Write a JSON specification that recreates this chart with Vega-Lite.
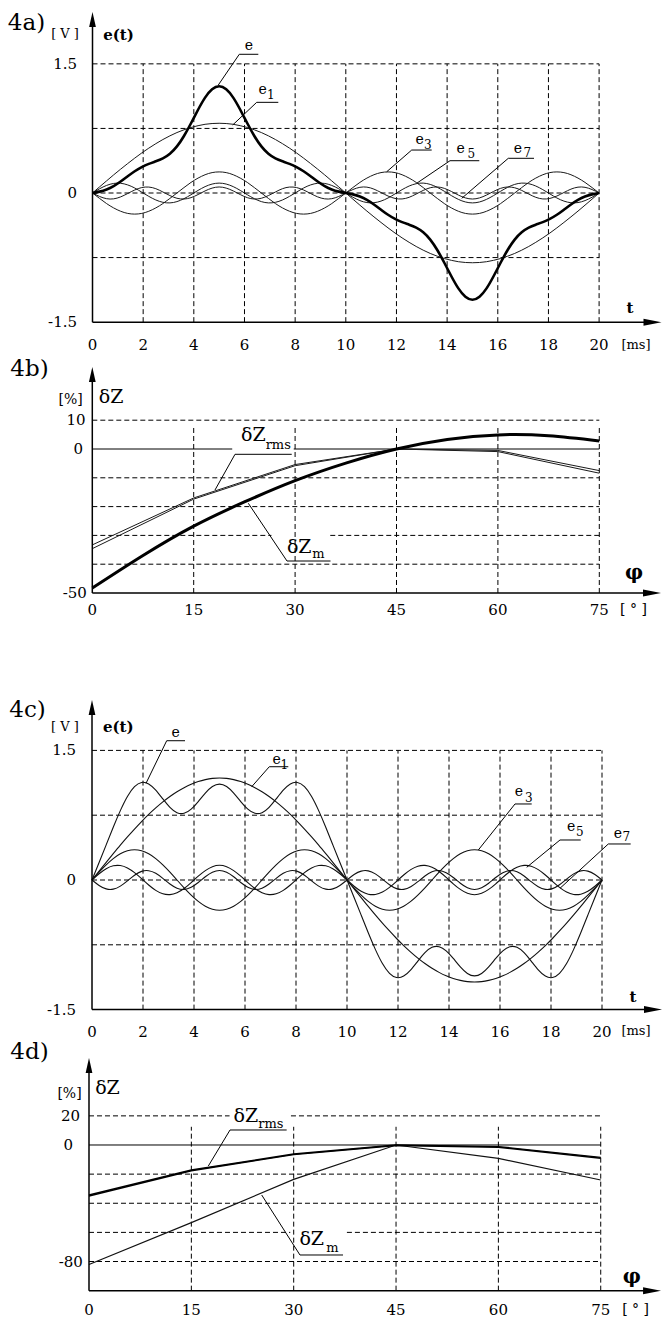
{
"$schema": "https://vega.github.io/schema/vega-lite/v6.json",
"padding": 0,
"background": "white",
"spacing": 0,
"bounds": "flush",
"config": {"view": {"stroke": null}, "text": {"font": "DejaVu Serif"}},
"datasets": {
"wa": [
{"x":0,"e":0,"e1":0,"e3":0,"e5":0,"e7":0},
{"x":0.278,"e":0.016,"e1":0.071,"e3":-0.063,"e5":0.049,"e7":-0.04},
{"x":0.556,"e":0.041,"e1":0.141,"e3":-0.123,"e5":0.088,"e7":-0.066},
{"x":0.833,"e":0.08,"e1":0.21,"e3":-0.173,"e5":0.111,"e7":-0.068},
{"x":1.111,"e":0.133,"e1":0.277,"e3":-0.212,"e5":0.113,"e7":-0.045},
{"x":1.389,"e":0.194,"e1":0.342,"e3":-0.237,"e5":0.094,"e7":-0.006},
{"x":1.667,"e":0.253,"e1":0.405,"e3":-0.245,"e5":0.058,"e7":0.035},
{"x":1.944,"e":0.301,"e1":0.465,"e3":-0.237,"e5":0.01,"e7":0.063},
{"x":2.222,"e":0.338,"e1":0.521,"e3":-0.212,"e5":-0.039,"e7":0.069},
{"x":2.5,"e":0.368,"e1":0.573,"e3":-0.173,"e5":-0.081,"e7":0.05},
{"x":2.778,"e":0.402,"e1":0.621,"e3":-0.123,"e5":-0.108,"e7":0.012},
{"x":3.056,"e":0.456,"e1":0.664,"e3":-0.063,"e5":-0.115,"e7":-0.03},
{"x":3.333,"e":0.541,"e1":0.702,"e3":0,"e5":-0.1,"e7":-0.061},
{"x":3.611,"e":0.662,"e1":0.734,"e3":0.063,"e5":-0.066,"e7":-0.07},
{"x":3.889,"e":0.81,"e1":0.761,"e3":0.123,"e5":-0.02,"e7":-0.054},
{"x":4.167,"e":0.967,"e1":0.782,"e3":0.173,"e5":0.03,"e7":-0.018},
{"x":4.444,"e":1.108,"e1":0.798,"e3":0.212,"e5":0.074,"e7":0.024},
{"x":4.722,"e":1.205,"e1":0.807,"e3":0.237,"e5":0.104,"e7":0.057},
{"x":5,"e":1.24,"e1":0.81,"e3":0.245,"e5":0.115,"e7":0.07},
{"x":5.278,"e":1.205,"e1":0.807,"e3":0.237,"e5":0.104,"e7":0.057},
{"x":5.556,"e":1.108,"e1":0.798,"e3":0.212,"e5":0.074,"e7":0.024},
{"x":5.833,"e":0.967,"e1":0.782,"e3":0.173,"e5":0.03,"e7":-0.018},
{"x":6.111,"e":0.81,"e1":0.761,"e3":0.123,"e5":-0.02,"e7":-0.054},
{"x":6.389,"e":0.662,"e1":0.734,"e3":0.063,"e5":-0.066,"e7":-0.07},
{"x":6.667,"e":0.541,"e1":0.702,"e3":0,"e5":-0.1,"e7":-0.061},
{"x":6.944,"e":0.456,"e1":0.664,"e3":-0.063,"e5":-0.115,"e7":-0.03},
{"x":7.222,"e":0.402,"e1":0.621,"e3":-0.123,"e5":-0.108,"e7":0.012},
{"x":7.5,"e":0.368,"e1":0.573,"e3":-0.173,"e5":-0.081,"e7":0.05},
{"x":7.778,"e":0.338,"e1":0.521,"e3":-0.212,"e5":-0.039,"e7":0.069},
{"x":8.056,"e":0.301,"e1":0.465,"e3":-0.237,"e5":0.01,"e7":0.063},
{"x":8.333,"e":0.253,"e1":0.405,"e3":-0.245,"e5":0.058,"e7":0.035},
{"x":8.611,"e":0.194,"e1":0.342,"e3":-0.237,"e5":0.094,"e7":-0.006},
{"x":8.889,"e":0.133,"e1":0.277,"e3":-0.212,"e5":0.113,"e7":-0.045},
{"x":9.167,"e":0.08,"e1":0.21,"e3":-0.173,"e5":0.111,"e7":-0.068},
{"x":9.444,"e":0.041,"e1":0.141,"e3":-0.123,"e5":0.088,"e7":-0.066},
{"x":9.722,"e":0.016,"e1":0.071,"e3":-0.063,"e5":0.049,"e7":-0.04},
{"x":10,"e":0,"e1":0,"e3":0,"e5":0,"e7":0},
{"x":10.278,"e":-0.016,"e1":-0.071,"e3":0.063,"e5":-0.049,"e7":0.04},
{"x":10.556,"e":-0.041,"e1":-0.141,"e3":0.123,"e5":-0.088,"e7":0.066},
{"x":10.833,"e":-0.08,"e1":-0.21,"e3":0.173,"e5":-0.111,"e7":0.068},
{"x":11.111,"e":-0.133,"e1":-0.277,"e3":0.212,"e5":-0.113,"e7":0.045},
{"x":11.389,"e":-0.194,"e1":-0.342,"e3":0.237,"e5":-0.094,"e7":0.006},
{"x":11.667,"e":-0.253,"e1":-0.405,"e3":0.245,"e5":-0.058,"e7":-0.035},
{"x":11.944,"e":-0.301,"e1":-0.465,"e3":0.237,"e5":-0.01,"e7":-0.063},
{"x":12.222,"e":-0.338,"e1":-0.521,"e3":0.212,"e5":0.039,"e7":-0.069},
{"x":12.5,"e":-0.368,"e1":-0.573,"e3":0.173,"e5":0.081,"e7":-0.05},
{"x":12.778,"e":-0.402,"e1":-0.621,"e3":0.123,"e5":0.108,"e7":-0.012},
{"x":13.056,"e":-0.456,"e1":-0.664,"e3":0.063,"e5":0.115,"e7":0.03},
{"x":13.333,"e":-0.541,"e1":-0.702,"e3":0,"e5":0.1,"e7":0.061},
{"x":13.611,"e":-0.662,"e1":-0.734,"e3":-0.063,"e5":0.066,"e7":0.07},
{"x":13.889,"e":-0.81,"e1":-0.761,"e3":-0.123,"e5":0.02,"e7":0.054},
{"x":14.167,"e":-0.967,"e1":-0.782,"e3":-0.173,"e5":-0.03,"e7":0.018},
{"x":14.444,"e":-1.108,"e1":-0.798,"e3":-0.212,"e5":-0.074,"e7":-0.024},
{"x":14.722,"e":-1.205,"e1":-0.807,"e3":-0.237,"e5":-0.104,"e7":-0.057},
{"x":15,"e":-1.24,"e1":-0.81,"e3":-0.245,"e5":-0.115,"e7":-0.07},
{"x":15.278,"e":-1.205,"e1":-0.807,"e3":-0.237,"e5":-0.104,"e7":-0.057},
{"x":15.556,"e":-1.108,"e1":-0.798,"e3":-0.212,"e5":-0.074,"e7":-0.024},
{"x":15.833,"e":-0.967,"e1":-0.782,"e3":-0.173,"e5":-0.03,"e7":0.018},
{"x":16.111,"e":-0.81,"e1":-0.761,"e3":-0.123,"e5":0.02,"e7":0.054},
{"x":16.389,"e":-0.662,"e1":-0.734,"e3":-0.063,"e5":0.066,"e7":0.07},
{"x":16.667,"e":-0.541,"e1":-0.702,"e3":0,"e5":0.1,"e7":0.061},
{"x":16.944,"e":-0.456,"e1":-0.664,"e3":0.063,"e5":0.115,"e7":0.03},
{"x":17.222,"e":-0.402,"e1":-0.621,"e3":0.123,"e5":0.108,"e7":-0.012},
{"x":17.5,"e":-0.368,"e1":-0.573,"e3":0.173,"e5":0.081,"e7":-0.05},
{"x":17.778,"e":-0.338,"e1":-0.521,"e3":0.212,"e5":0.039,"e7":-0.069},
{"x":18.056,"e":-0.301,"e1":-0.465,"e3":0.237,"e5":-0.01,"e7":-0.063},
{"x":18.333,"e":-0.253,"e1":-0.405,"e3":0.245,"e5":-0.058,"e7":-0.035},
{"x":18.611,"e":-0.194,"e1":-0.342,"e3":0.237,"e5":-0.094,"e7":0.006},
{"x":18.889,"e":-0.133,"e1":-0.277,"e3":0.212,"e5":-0.113,"e7":0.045},
{"x":19.167,"e":-0.08,"e1":-0.21,"e3":0.173,"e5":-0.111,"e7":0.068},
{"x":19.444,"e":-0.041,"e1":-0.141,"e3":0.123,"e5":-0.088,"e7":0.066},
{"x":19.722,"e":-0.016,"e1":-0.071,"e3":0.063,"e5":-0.049,"e7":0.04},
{"x":20,"e":0,"e1":0,"e3":0,"e5":0,"e7":0}
],
"wc": [
{"x":0,"e":0,"e1":0,"e3":0,"e5":0,"e7":0},
{"x":0.278,"e":0.202,"e1":0.103,"e3":0.091,"e5":0.072,"e7":-0.063},
{"x":0.556,"e":0.407,"e1":0.205,"e3":0.175,"e5":0.13,"e7":-0.103},
{"x":0.833,"e":0.611,"e1":0.305,"e3":0.248,"e5":0.164,"e7":-0.106},
{"x":1.111,"e":0.803,"e1":0.404,"e3":0.303,"e5":0.167,"e7":-0.071},
{"x":1.389,"e":0.967,"e1":0.499,"e3":0.338,"e5":0.139,"e7":-0.01},
{"x":1.667,"e":1.08,"e1":0.59,"e3":0.35,"e5":0.085,"e7":0.055},
{"x":1.944,"e":1.129,"e1":0.677,"e3":0.338,"e5":0.015,"e7":0.1},
{"x":2.222,"e":1.112,"e1":0.759,"e3":0.303,"e5":-0.058,"e7":0.108},
{"x":2.5,"e":1.04,"e1":0.834,"e3":0.248,"e5":-0.12,"e7":0.078},
{"x":2.778,"e":0.938,"e1":0.904,"e3":0.175,"e5":-0.16,"e7":0.019},
{"x":3.056,"e":0.841,"e1":0.967,"e3":0.091,"e5":-0.169,"e7":-0.047},
{"x":3.333,"e":0.779,"e1":1.022,"e3":0,"e5":-0.147,"e7":-0.095},
{"x":3.611,"e":0.772,"e1":1.069,"e3":-0.091,"e5":-0.098,"e7":-0.11},
{"x":3.889,"e":0.82,"e1":1.109,"e3":-0.175,"e5":-0.03,"e7":-0.084},
{"x":4.167,"e":0.908,"e1":1.14,"e3":-0.248,"e5":0.044,"e7":-0.029},
{"x":4.444,"e":1.006,"e1":1.162,"e3":-0.303,"e5":0.109,"e7":0.038},
{"x":4.722,"e":1.082,"e1":1.176,"e3":-0.338,"e5":0.154,"e7":0.09},
{"x":5,"e":1.11,"e1":1.18,"e3":-0.35,"e5":0.17,"e7":0.11},
{"x":5.278,"e":1.082,"e1":1.176,"e3":-0.338,"e5":0.154,"e7":0.09},
{"x":5.556,"e":1.006,"e1":1.162,"e3":-0.303,"e5":0.109,"e7":0.038},
{"x":5.833,"e":0.908,"e1":1.14,"e3":-0.248,"e5":0.044,"e7":-0.029},
{"x":6.111,"e":0.82,"e1":1.109,"e3":-0.175,"e5":-0.03,"e7":-0.084},
{"x":6.389,"e":0.772,"e1":1.069,"e3":-0.091,"e5":-0.098,"e7":-0.11},
{"x":6.667,"e":0.779,"e1":1.022,"e3":0,"e5":-0.147,"e7":-0.095},
{"x":6.944,"e":0.841,"e1":0.967,"e3":0.091,"e5":-0.169,"e7":-0.047},
{"x":7.222,"e":0.938,"e1":0.904,"e3":0.175,"e5":-0.16,"e7":0.019},
{"x":7.5,"e":1.04,"e1":0.834,"e3":0.248,"e5":-0.12,"e7":0.078},
{"x":7.778,"e":1.112,"e1":0.759,"e3":0.303,"e5":-0.058,"e7":0.108},
{"x":8.056,"e":1.129,"e1":0.677,"e3":0.338,"e5":0.015,"e7":0.1},
{"x":8.333,"e":1.08,"e1":0.59,"e3":0.35,"e5":0.085,"e7":0.055},
{"x":8.611,"e":0.967,"e1":0.499,"e3":0.338,"e5":0.139,"e7":-0.01},
{"x":8.889,"e":0.803,"e1":0.404,"e3":0.303,"e5":0.167,"e7":-0.071},
{"x":9.167,"e":0.611,"e1":0.305,"e3":0.248,"e5":0.164,"e7":-0.106},
{"x":9.444,"e":0.407,"e1":0.205,"e3":0.175,"e5":0.13,"e7":-0.103},
{"x":9.722,"e":0.202,"e1":0.103,"e3":0.091,"e5":0.072,"e7":-0.063},
{"x":10,"e":0,"e1":0,"e3":0,"e5":0,"e7":0},
{"x":10.278,"e":-0.202,"e1":-0.103,"e3":-0.091,"e5":-0.072,"e7":0.063},
{"x":10.556,"e":-0.407,"e1":-0.205,"e3":-0.175,"e5":-0.13,"e7":0.103},
{"x":10.833,"e":-0.611,"e1":-0.305,"e3":-0.248,"e5":-0.164,"e7":0.106},
{"x":11.111,"e":-0.803,"e1":-0.404,"e3":-0.303,"e5":-0.167,"e7":0.071},
{"x":11.389,"e":-0.967,"e1":-0.499,"e3":-0.338,"e5":-0.139,"e7":0.01},
{"x":11.667,"e":-1.08,"e1":-0.59,"e3":-0.35,"e5":-0.085,"e7":-0.055},
{"x":11.944,"e":-1.129,"e1":-0.677,"e3":-0.338,"e5":-0.015,"e7":-0.1},
{"x":12.222,"e":-1.112,"e1":-0.759,"e3":-0.303,"e5":0.058,"e7":-0.108},
{"x":12.5,"e":-1.04,"e1":-0.834,"e3":-0.248,"e5":0.12,"e7":-0.078},
{"x":12.778,"e":-0.938,"e1":-0.904,"e3":-0.175,"e5":0.16,"e7":-0.019},
{"x":13.056,"e":-0.841,"e1":-0.967,"e3":-0.091,"e5":0.169,"e7":0.047},
{"x":13.333,"e":-0.779,"e1":-1.022,"e3":0,"e5":0.147,"e7":0.095},
{"x":13.611,"e":-0.772,"e1":-1.069,"e3":0.091,"e5":0.098,"e7":0.11},
{"x":13.889,"e":-0.82,"e1":-1.109,"e3":0.175,"e5":0.03,"e7":0.084},
{"x":14.167,"e":-0.908,"e1":-1.14,"e3":0.248,"e5":-0.044,"e7":0.029},
{"x":14.444,"e":-1.006,"e1":-1.162,"e3":0.303,"e5":-0.109,"e7":-0.038},
{"x":14.722,"e":-1.082,"e1":-1.176,"e3":0.338,"e5":-0.154,"e7":-0.09},
{"x":15,"e":-1.11,"e1":-1.18,"e3":0.35,"e5":-0.17,"e7":-0.11},
{"x":15.278,"e":-1.082,"e1":-1.176,"e3":0.338,"e5":-0.154,"e7":-0.09},
{"x":15.556,"e":-1.006,"e1":-1.162,"e3":0.303,"e5":-0.109,"e7":-0.038},
{"x":15.833,"e":-0.908,"e1":-1.14,"e3":0.248,"e5":-0.044,"e7":0.029},
{"x":16.111,"e":-0.82,"e1":-1.109,"e3":0.175,"e5":0.03,"e7":0.084},
{"x":16.389,"e":-0.772,"e1":-1.069,"e3":0.091,"e5":0.098,"e7":0.11},
{"x":16.667,"e":-0.779,"e1":-1.022,"e3":0,"e5":0.147,"e7":0.095},
{"x":16.944,"e":-0.841,"e1":-0.967,"e3":-0.091,"e5":0.169,"e7":0.047},
{"x":17.222,"e":-0.938,"e1":-0.904,"e3":-0.175,"e5":0.16,"e7":-0.019},
{"x":17.5,"e":-1.04,"e1":-0.834,"e3":-0.248,"e5":0.12,"e7":-0.078},
{"x":17.778,"e":-1.112,"e1":-0.759,"e3":-0.303,"e5":0.058,"e7":-0.108},
{"x":18.056,"e":-1.129,"e1":-0.677,"e3":-0.338,"e5":-0.015,"e7":-0.1},
{"x":18.333,"e":-1.08,"e1":-0.59,"e3":-0.35,"e5":-0.085,"e7":-0.055},
{"x":18.611,"e":-0.967,"e1":-0.499,"e3":-0.338,"e5":-0.139,"e7":0.01},
{"x":18.889,"e":-0.803,"e1":-0.404,"e3":-0.303,"e5":-0.167,"e7":0.071},
{"x":19.167,"e":-0.611,"e1":-0.305,"e3":-0.248,"e5":-0.164,"e7":0.106},
{"x":19.444,"e":-0.407,"e1":-0.205,"e3":-0.175,"e5":-0.13,"e7":0.103},
{"x":19.722,"e":-0.202,"e1":-0.103,"e3":-0.091,"e5":-0.072,"e7":0.063},
{"x":20,"e":0,"e1":0,"e3":0,"e5":0,"e7":0}
],
"da": [
{"x":0,"y":1.5,"x2":20,"y2":1.5},{"x":0,"y":0.75,"x2":20,"y2":0.75},{"x":0,"y":0,"x2":20,"y2":0},{"x":0,"y":-0.75,"x2":20,"y2":-0.75},
{"x":2,"y":-1.5,"x2":2,"y2":1.5},{"x":4,"y":-1.5,"x2":4,"y2":1.5},{"x":6,"y":-1.5,"x2":6,"y2":1.5},{"x":8,"y":-1.5,"x2":8,"y2":1.5},{"x":10,"y":-1.5,"x2":10,"y2":1.5},
{"x":12,"y":-1.5,"x2":12,"y2":1.5},{"x":14,"y":-1.5,"x2":14,"y2":1.5},{"x":16,"y":-1.5,"x2":16,"y2":1.5},{"x":18,"y":-1.5,"x2":18,"y2":1.5},{"x":20,"y":-1.5,"x2":20,"y2":1.5}
],
"xa": [{"x":0,"y":-1.5,"x2":0,"y2":2.0},{"x":0,"y":-1.5,"x2":22.0,"y2":-1.5}],
"aa": [{"x":0,"y":2.015,"d":"up"},{"x":22.108,"y":-1.5,"d":"right"}],
"sa": [
{"x":5.795,"y":1.611,"x2":6.546,"y2":1.611},{"x":5.795,"y":1.611,"x2":4.966,"y2":1.254},
{"x":6.482,"y":1.053,"x2":7.335,"y2":1.053},{"x":6.482,"y":1.053,"x2":5.535,"y2":0.79},
{"x":12.602,"y":0.499,"x2":13.391,"y2":0.499},{"x":12.602,"y":0.499,"x2":11.615,"y2":0.247},
{"x":14.114,"y":0.375,"x2":15.27,"y2":0.375},{"x":14.114,"y":0.375,"x2":12.799,"y2":0.113},
{"x":16.415,"y":0.403,"x2":17.43,"y2":0.403},{"x":16.415,"y":0.403,"x2":14.576,"y2":-0.062}
],
"ta": [
{"f":"yl","x":-0.612,"y":1.5,"s":"1.5"},{"f":"yl","x":-0.612,"y":0,"s":"0"},{"f":"yl","x":-0.612,"y":-1.5,"s":"-1.5"},
{"f":"xl","x":0,"y":-1.769,"s":"0"},{"f":"xl","x":2,"y":-1.769,"s":"2"},{"f":"xl","x":4,"y":-1.769,"s":"4"},{"f":"xl","x":6,"y":-1.769,"s":"6"},{"f":"xl","x":8,"y":-1.769,"s":"8"},{"f":"xl","x":10,"y":-1.769,"s":"10"},
{"f":"xl","x":12,"y":-1.769,"s":"12"},{"f":"xl","x":14,"y":-1.769,"s":"14"},{"f":"xl","x":16,"y":-1.769,"s":"16"},{"f":"xl","x":18,"y":-1.769,"s":"18"},{"f":"xl","x":20,"y":-1.769,"s":"20"},
{"f":"u","x":21.457,"y":-1.765,"s":"[ms]"},{"f":"u","x":-1.085,"y":1.841,"s":"[ V ]"},
{"f":"b","x":21.22,"y":-1.336,"s":"t"},{"f":"b","x":1.026,"y":1.835,"s":"e(t)"},
{"f":"p","x":-2.606,"y":1.974,"s":"4a)"},
{"f":"a","x":6.178,"y":1.713,"s":"e"},
{"f":"a","x":6.719,"y":1.2,"s":"e"},{"f":"s","x":7.039,"y":1.135,"s":"1"},
{"f":"a","x":12.918,"y":0.616,"s":"e"},{"f":"s","x":13.237,"y":0.554,"s":"3"},
{"f":"a","x":14.536,"y":0.513,"s":"e"},{"f":"s","x":14.951,"y":0.455,"s":"5"},
{"f":"a","x":16.798,"y":0.513,"s":"e"},{"f":"s","x":17.165,"y":0.47,"s":"7"}
],
"zbm": [{"x":0,"y":-48.3},{"x":7.5,"y":-37},{"x":15,"y":-26.8},{"x":22.5,"y":-18.4},{"x":30,"y":-11},{"x":37.5,"y":-4.9},{"x":45,"y":0},{"x":52.5,"y":3.3},{"x":60,"y":4.9},{"x":67.5,"y":4.6},{"x":75,"y":2.8}],
"zbr": [
{"s":"r1","x":0,"y":-33.3},{"s":"r1","x":15,"y":-17},{"s":"r1","x":30,"y":-5.4},{"s":"r1","x":45,"y":0},{"s":"r1","x":60,"y":-0.5},{"s":"r1","x":75,"y":-7.5},
{"s":"r2","x":0,"y":-34.6},{"s":"r2","x":15,"y":-17.4},{"s":"r2","x":30,"y":-5.8},{"s":"r2","x":45,"y":0},{"s":"r2","x":60,"y":-0.9},{"s":"r2","x":75,"y":-8.4}
],
"db": [
{"x":0,"y":10,"x2":75,"y2":10},{"x":0,"y":-10,"x2":75,"y2":-10},{"x":0,"y":-20,"x2":75,"y2":-20},
{"x":0,"y":-30,"x2":26.5,"y2":-30},{"x":35.2,"y":-30,"x2":75,"y2":-30},{"x":0,"y":-40,"x2":75,"y2":-40},
{"x":15,"y":-50,"x2":15,"y2":8.3},{"x":30,"y":-50,"x2":30,"y2":8.3},{"x":45,"y":-50,"x2":45,"y2":8.3},{"x":60,"y":-50,"x2":60,"y2":8.3},{"x":75,"y":-50,"x2":75,"y2":8.3}
],
"xb": [{"x":0,"y":-50,"x2":0,"y2":25.7},{"x":0,"y":-50,"x2":81.8,"y2":-50}],
"ab": [{"x":0,"y":25.87,"d":"up"},{"x":82.8,"y":-50,"d":"right"}],
"sb": [
{"x":0,"y":0,"x2":20.7,"y2":0},{"x":29.8,"y":0,"x2":75,"y2":0},
{"x":21.11,"y":-1.84,"x2":29.5,"y2":-1.84},{"x":21.11,"y":-1.84,"x2":18.15,"y2":-14.24},
{"x":28.8,"y":-38.89,"x2":35.24,"y2":-38.89},{"x":28.8,"y":-38.89,"x2":23.08,"y2":-18.85}
],
"tb": [
{"f":"yl","x":-1.0,"y":10,"s":"10"},{"f":"yl","x":-1.376,"y":0,"s":"0"},{"f":"yl","x":-0.8,"y":-50,"s":"-50"},
{"f":"xl","x":0,"y":-55.9,"s":"0"},{"f":"xl","x":15,"y":-55.9,"s":"15"},{"f":"xl","x":30,"y":-55.9,"s":"30"},{"f":"xl","x":45,"y":-55.9,"s":"45"},{"f":"xl","x":60,"y":-55.9,"s":"60"},{"f":"xl","x":75,"y":-55.9,"s":"75"},
{"f":"u","x":80.06,"y":-55.9,"s":"[ ° ]"},{"f":"phi","x":80.13,"y":-43.06,"s":"φ"},
{"f":"u","x":-3.22,"y":17.01,"s":"[%]"},{"f":"dz","x":2.77,"y":18.06,"s":"δZ"},
{"f":"p","x":-9.29,"y":27.78,"s":"4b)"},
{"f":"dz","x":23.82,"y":4.861,"s":"δZ"},{"f":"dzs","x":27.51,"y":1.389,"s":"rms"},
{"f":"dz","x":30.61,"y":-34.03,"s":"δZ"},{"f":"dzs","x":33.43,"y":-36.46,"s":"m"}
],
"xc": [{"x":0,"y":-1.5,"x2":0,"y2":1.944},{"x":0,"y":-1.5,"x2":21.88,"y2":-1.5}],
"ac": [{"x":0,"y":1.997,"d":"up"},{"x":22.0,"y":-1.5,"d":"right"}],
"sc": [
{"x":2.929,"y":1.612,"x2":3.647,"y2":1.612},{"x":2.929,"y":1.612,"x2":2.118,"y2":1.119},
{"x":6.953,"y":1.311,"x2":7.698,"y2":1.311},{"x":6.953,"y":1.311,"x2":6.263,"y2":1.08},
{"x":16.588,"y":0.88,"x2":17.243,"y2":0.88},{"x":16.588,"y":0.88,"x2":15.149,"y2":0.347},
{"x":18.353,"y":0.463,"x2":19.165,"y2":0.463},{"x":18.353,"y":0.463,"x2":17.047,"y2":0.147},
{"x":20.247,"y":0.417,"x2":21.125,"y2":0.417},{"x":20.247,"y":0.417,"x2":18.353,"y2":-0.096}
],
"tc": [
{"f":"yl","x":-0.627,"y":1.5,"s":"1.5"},{"f":"yl","x":-0.627,"y":0,"s":"0"},{"f":"yl","x":-0.627,"y":-1.5,"s":"-1.5"},
{"f":"xl","x":0,"y":-1.759,"s":"0"},{"f":"xl","x":2,"y":-1.759,"s":"2"},{"f":"xl","x":4,"y":-1.759,"s":"4"},{"f":"xl","x":6,"y":-1.759,"s":"6"},{"f":"xl","x":8,"y":-1.759,"s":"8"},{"f":"xl","x":10,"y":-1.759,"s":"10"},
{"f":"xl","x":12,"y":-1.759,"s":"12"},{"f":"xl","x":14,"y":-1.759,"s":"14"},{"f":"xl","x":16,"y":-1.759,"s":"16"},{"f":"xl","x":18,"y":-1.759,"s":"18"},{"f":"xl","x":20,"y":-1.759,"s":"20"},
{"f":"u","x":21.333,"y":-1.745,"s":"[ms]"},{"f":"u","x":-1.059,"y":1.771,"s":"[ V ]"},
{"f":"b","x":21.216,"y":-1.354,"s":"t"},{"f":"b","x":1.031,"y":1.771,"s":"e(t)"},
{"f":"p","x":-2.529,"y":1.968,"s":"4c)"},
{"f":"a","x":3.275,"y":1.698,"s":"e"},
{"f":"a","x":7.243,"y":1.385,"s":"e"},{"f":"s","x":7.537,"y":1.327,"s":"1"},
{"f":"a","x":16.745,"y":1.013,"s":"e"},{"f":"s","x":17.129,"y":0.949,"s":"3"},
{"f":"a","x":18.792,"y":0.617,"s":"e"},{"f":"s","x":19.125,"y":0.561,"s":"5"},
{"f":"a","x":20.62,"y":0.536,"s":"e"},{"f":"s","x":20.953,"y":0.492,"s":"7"}
],
"zdm": [{"x":0,"y":-82},{"x":15,"y":-53.3},{"x":30,"y":-23.6},{"x":45,"y":0},{"x":60,"y":-9.2},{"x":75,"y":-24}],
"zdr": [
{"s":"r1","x":0,"y":-34.3},{"s":"r1","x":15,"y":-17.2},{"s":"r1","x":30,"y":-6.2},{"s":"r1","x":45,"y":0},{"s":"r1","x":60,"y":-1.1},{"s":"r1","x":75,"y":-8.5},
{"s":"r2","x":0,"y":-35.0},{"s":"r2","x":15,"y":-17.7},{"s":"r2","x":30,"y":-6.6},{"s":"r2","x":45,"y":-0.3},{"s":"r2","x":60,"y":-1.5},{"s":"r2","x":75,"y":-9.1}
],
"dd": [
{"x":0,"y":20,"x2":20.6,"y2":20},{"x":29.6,"y":20,"x2":75,"y2":20},{"x":0,"y":-20,"x2":75,"y2":-20},{"x":0,"y":-40,"x2":75,"y2":-40},
{"x":0,"y":-60,"x2":29.5,"y2":-60},{"x":37.8,"y":-60,"x2":75,"y2":-60},{"x":0,"y":-80,"x2":75,"y2":-80},
{"x":15,"y":-100,"x2":15,"y2":12.5},{"x":30,"y":-100,"x2":30,"y2":12.5},{"x":45,"y":-100,"x2":45,"y2":12.5},{"x":60,"y":-100,"x2":60,"y2":12.5},{"x":75,"y":-100,"x2":75,"y2":12.5}
],
"xd": [{"x":0,"y":-100,"x2":0,"y2":51.5},{"x":0,"y":-100,"x2":81.49,"y2":-100}],
"ad": [{"x":0,"y":54.58,"d":"up"},{"x":82.52,"y":-100,"d":"right"}],
"sd": [
{"x":0,"y":0,"x2":75,"y2":0},
{"x":20.67,"y":10.3,"x2":28.97,"y2":10.3},{"x":20.67,"y":10.3,"x2":17.49,"y2":-14.42},
{"x":30.92,"y":-75.52,"x2":37.23,"y2":-75.52},{"x":30.92,"y":-75.52,"x2":25.31,"y2":-34.33}
],
"td": [
{"f":"yl","x":-1.319,"y":20,"s":"20"},{"f":"yl","x":-2.345,"y":0,"s":"0"},{"f":"yl","x":-0.9,"y":-80,"s":"-80"},
{"f":"xl","x":0,"y":-113.3,"s":"0"},{"f":"xl","x":15,"y":-113.3,"s":"15"},{"f":"xl","x":30,"y":-113.3,"s":"30"},{"f":"xl","x":45,"y":-113.3,"s":"45"},{"f":"xl","x":60,"y":-113.3,"s":"60"},{"f":"xl","x":75,"y":-113.3,"s":"75"},
{"f":"u","x":80.11,"y":-113.3,"s":"[ ° ]"},{"f":"phi","x":79.54,"y":-90.42,"s":"φ"},
{"f":"u","x":-2.858,"y":35.02,"s":"[%]"},{"f":"dz","x":2.711,"y":39.13,"s":"δZ"},
{"f":"p","x":-8.72,"y":63.85,"s":"4d)"},
{"f":"dz","x":23.0,"y":20.05,"s":"δZ"},{"f":"dzs","x":26.65,"y":14.28,"s":"rms"},
{"f":"dz","x":32.64,"y":-64.54,"s":"δZ"},{"f":"dzs","x":35.69,"y":-70.72,"s":"m"}
]
},
"vconcat": [
{
"width": 664, "height": 355,
"encoding": {
"x": {"field":"x","type":"quantitative","axis":null,"scale":{"domain":[-3.652,22.562],"nice":false,"zero":false}},
"y": {"field":"y","type":"quantitative","axis":null,"scale":{"domain":[-1.8815,2.2416],"nice":false,"zero":false}}
},
"layer": [
{"data":{"name":"da"},"mark":{"type":"rule","color":"#000","strokeWidth":1,"strokeDash":[5,3]},"encoding":{"x2":{"field":"x2"},"y2":{"field":"y2"}}},
{"data":{"name":"wa"},"transform":[{"fold":["e1","e3","e5","e7"],"as":["s","y"]}],"mark":{"type":"line","color":"#1a1a1a","strokeWidth":1,"interpolate":"natural"},"encoding":{"detail":{"field":"s"}}},
{"data":{"name":"wa"},"transform":[{"fold":["e"],"as":["s","y"]}],"mark":{"type":"line","color":"#000","strokeWidth":2.6,"interpolate":"natural"},"encoding":{}},
{"data":{"name":"xa"},"mark":{"type":"rule","color":"#000","strokeWidth":1.5},"encoding":{"x2":{"field":"x2"},"y2":{"field":"y2"}}},
{"data":{"name":"sa"},"mark":{"type":"rule","color":"#000","strokeWidth":1},"encoding":{"x2":{"field":"x2"},"y2":{"field":"y2"}}},
{"data":{"name":"aa"},"transform":[{"filter":"datum.d=='up'"}],"mark":{"type":"point","shape":"M0,-1L0.45,1L-0.45,1Z","size":225,"filled":true,"color":"#000","opacity":1}},
{"data":{"name":"aa"},"transform":[{"filter":"datum.d=='right'"}],"mark":{"type":"point","shape":"M1,0L-1,-0.39L-1,0.39Z","size":324,"filled":true,"color":"#000","opacity":1}},
{"data":{"name":"ta"},"transform":[{"filter":"datum.f=='yl'"}],"mark":{"type":"text","font":"DejaVu Serif","fontSize":15,"align":"right","baseline":"middle","color":"#000"},"encoding":{"text":{"field":"s"}}},
{"data":{"name":"ta"},"transform":[{"filter":"datum.f=='xl'"}],"mark":{"type":"text","font":"DejaVu Serif","fontSize":15,"align":"center","baseline":"middle","color":"#000"},"encoding":{"text":{"field":"s"}}},
{"data":{"name":"ta"},"transform":[{"filter":"datum.f=='u'"}],"mark":{"type":"text","font":"DejaVu Serif","fontSize":13,"align":"center","baseline":"middle","color":"#000"},"encoding":{"text":{"field":"s"}}},
{"data":{"name":"ta"},"transform":[{"filter":"datum.f=='b'"}],"mark":{"type":"text","font":"DejaVu Serif","fontSize":15,"fontWeight":"bold","align":"center","baseline":"middle","color":"#000"},"encoding":{"text":{"field":"s"}}},
{"data":{"name":"ta"},"transform":[{"filter":"datum.f=='p'"}],"mark":{"type":"text","font":"DejaVu Serif","fontSize":23,"align":"center","baseline":"middle","color":"#000"},"encoding":{"text":{"field":"s"}}},
{"data":{"name":"ta"},"transform":[{"filter":"datum.f=='a'"}],"mark":{"type":"text","font":"DejaVu Serif","fontSize":14,"align":"center","baseline":"middle","color":"#000"},"encoding":{"text":{"field":"s"}}},
{"data":{"name":"ta"},"transform":[{"filter":"datum.f=='s'"}],"mark":{"type":"text","font":"DejaVu Serif","fontSize":12,"align":"center","baseline":"middle","color":"#000"},"encoding":{"text":{"field":"s"}}}
]
},
{
"width": 664, "height": 285,
"encoding": {
"x": {"field":"x","type":"quantitative","axis":null,"scale":{"domain":[-13.654,84.571],"nice":false,"zero":false}},
"y": {"field":"y","type":"quantitative","axis":null,"scale":{"domain":[-66.32,32.64],"nice":false,"zero":false}}
},
"layer": [
{"data":{"name":"db"},"mark":{"type":"rule","color":"#000","strokeWidth":1,"strokeDash":[5,3]},"encoding":{"x2":{"field":"x2"},"y2":{"field":"y2"}}},
{"data":{"name":"sb"},"mark":{"type":"rule","color":"#000","strokeWidth":1},"encoding":{"x2":{"field":"x2"},"y2":{"field":"y2"}}},
{"data":{"name":"zbr"},"mark":{"type":"line","color":"#1a1a1a","strokeWidth":1},"encoding":{"detail":{"field":"s"}}},
{"data":{"name":"zbm"},"mark":{"type":"line","color":"#000","strokeWidth":3,"interpolate":"natural"},"encoding":{}},
{"data":{"name":"xb"},"mark":{"type":"rule","color":"#000","strokeWidth":1.5},"encoding":{"x2":{"field":"x2"},"y2":{"field":"y2"}}},
{"data":{"name":"ab"},"transform":[{"filter":"datum.d=='up'"}],"mark":{"type":"point","shape":"M0,-1L0.45,1L-0.45,1Z","size":225,"filled":true,"color":"#000","opacity":1}},
{"data":{"name":"ab"},"transform":[{"filter":"datum.d=='right'"}],"mark":{"type":"point","shape":"M1,0L-1,-0.39L-1,0.39Z","size":324,"filled":true,"color":"#000","opacity":1}},
{"data":{"name":"tb"},"transform":[{"filter":"datum.f=='yl'"}],"mark":{"type":"text","font":"DejaVu Serif","fontSize":15,"align":"right","baseline":"middle","color":"#000"},"encoding":{"text":{"field":"s"}}},
{"data":{"name":"tb"},"transform":[{"filter":"datum.f=='xl'"}],"mark":{"type":"text","font":"DejaVu Serif","fontSize":15,"align":"center","baseline":"middle","color":"#000"},"encoding":{"text":{"field":"s"}}},
{"data":{"name":"tb"},"transform":[{"filter":"datum.f=='u'"}],"mark":{"type":"text","font":"DejaVu Serif","fontSize":14,"align":"center","baseline":"middle","color":"#000"},"encoding":{"text":{"field":"s"}}},
{"data":{"name":"tb"},"transform":[{"filter":"datum.f=='phi'"}],"mark":{"type":"text","font":"DejaVu Serif","fontSize":20,"fontWeight":"bold","align":"center","baseline":"middle","color":"#000"},"encoding":{"text":{"field":"s"}}},
{"data":{"name":"tb"},"transform":[{"filter":"datum.f=='p'"}],"mark":{"type":"text","font":"DejaVu Serif","fontSize":23,"align":"center","baseline":"middle","color":"#000"},"encoding":{"text":{"field":"s"}}},
{"data":{"name":"tb"},"transform":[{"filter":"datum.f=='dz'"}],"mark":{"type":"text","font":"DejaVu Serif","fontSize":19,"align":"center","baseline":"middle","color":"#000"},"encoding":{"text":{"field":"s"}}},
{"data":{"name":"tb"},"transform":[{"filter":"datum.f=='dzs'"}],"mark":{"type":"text","font":"DejaVu Serif","fontSize":13,"align":"center","baseline":"middle","color":"#000"},"encoding":{"text":{"field":"s"}}}
]
},
{
"width": 664, "height": 405,
"encoding": {
"x": {"field":"x","type":"quantitative","axis":null,"scale":{"domain":[-3.608,22.431],"nice":false,"zero":false}},
"y": {"field":"y","type":"quantitative","axis":null,"scale":{"domain":[-1.9097,2.7778],"nice":false,"zero":false}}
},
"layer": [
{"data":{"name":"da"},"mark":{"type":"rule","color":"#000","strokeWidth":1,"strokeDash":[5,3]},"encoding":{"x2":{"field":"x2"},"y2":{"field":"y2"}}},
{"data":{"name":"wc"},"transform":[{"fold":["e","e1","e3","e5","e7"],"as":["s","y"]}],"mark":{"type":"line","color":"#111","strokeWidth":1.1,"interpolate":"natural"},"encoding":{"detail":{"field":"s"}}},
{"data":{"name":"xc"},"mark":{"type":"rule","color":"#000","strokeWidth":1.5},"encoding":{"x2":{"field":"x2"},"y2":{"field":"y2"}}},
{"data":{"name":"sc"},"mark":{"type":"rule","color":"#000","strokeWidth":1},"encoding":{"x2":{"field":"x2"},"y2":{"field":"y2"}}},
{"data":{"name":"ac"},"transform":[{"filter":"datum.d=='up'"}],"mark":{"type":"point","shape":"M0,-1L0.45,1L-0.45,1Z","size":225,"filled":true,"color":"#000","opacity":1}},
{"data":{"name":"ac"},"transform":[{"filter":"datum.d=='right'"}],"mark":{"type":"point","shape":"M1,0L-1,-0.39L-1,0.39Z","size":324,"filled":true,"color":"#000","opacity":1}},
{"data":{"name":"tc"},"transform":[{"filter":"datum.f=='yl'"}],"mark":{"type":"text","font":"DejaVu Serif","fontSize":15,"align":"right","baseline":"middle","color":"#000"},"encoding":{"text":{"field":"s"}}},
{"data":{"name":"tc"},"transform":[{"filter":"datum.f=='xl'"}],"mark":{"type":"text","font":"DejaVu Serif","fontSize":15,"align":"center","baseline":"middle","color":"#000"},"encoding":{"text":{"field":"s"}}},
{"data":{"name":"tc"},"transform":[{"filter":"datum.f=='u'"}],"mark":{"type":"text","font":"DejaVu Serif","fontSize":13,"align":"center","baseline":"middle","color":"#000"},"encoding":{"text":{"field":"s"}}},
{"data":{"name":"tc"},"transform":[{"filter":"datum.f=='b'"}],"mark":{"type":"text","font":"DejaVu Serif","fontSize":15,"fontWeight":"bold","align":"center","baseline":"middle","color":"#000"},"encoding":{"text":{"field":"s"}}},
{"data":{"name":"tc"},"transform":[{"filter":"datum.f=='p'"}],"mark":{"type":"text","font":"DejaVu Serif","fontSize":23,"align":"center","baseline":"middle","color":"#000"},"encoding":{"text":{"field":"s"}}},
{"data":{"name":"tc"},"transform":[{"filter":"datum.f=='a'"}],"mark":{"type":"text","font":"DejaVu Serif","fontSize":14,"align":"center","baseline":"middle","color":"#000"},"encoding":{"text":{"field":"s"}}},
{"data":{"name":"tc"},"transform":[{"filter":"datum.f=='s'"}],"mark":{"type":"text","font":"DejaVu Serif","fontSize":12,"align":"center","baseline":"middle","color":"#000"},"encoding":{"text":{"field":"s"}}}
]
},
{
"width": 664, "height": 277,
"encoding": {
"x": {"field":"x","type":"quantitative","axis":null,"scale":{"domain":[-13.044,84.274],"nice":false,"zero":false}},
"y": {"field":"y","type":"quantitative","axis":null,"scale":{"domain":[-121.53,68.66],"nice":false,"zero":false}}
},
"layer": [
{"data":{"name":"dd"},"mark":{"type":"rule","color":"#000","strokeWidth":1,"strokeDash":[5,3]},"encoding":{"x2":{"field":"x2"},"y2":{"field":"y2"}}},
{"data":{"name":"sd"},"mark":{"type":"rule","color":"#000","strokeWidth":1},"encoding":{"x2":{"field":"x2"},"y2":{"field":"y2"}}},
{"data":{"name":"zdm"},"mark":{"type":"line","color":"#111","strokeWidth":1.1},"encoding":{}},
{"data":{"name":"zdr"},"mark":{"type":"line","color":"#000","strokeWidth":1.4},"encoding":{"detail":{"field":"s"}}},
{"data":{"name":"xd"},"mark":{"type":"rule","color":"#000","strokeWidth":1.5},"encoding":{"x2":{"field":"x2"},"y2":{"field":"y2"}}},
{"data":{"name":"ad"},"transform":[{"filter":"datum.d=='up'"}],"mark":{"type":"point","shape":"M0,-1L0.45,1L-0.45,1Z","size":225,"filled":true,"color":"#000","opacity":1}},
{"data":{"name":"ad"},"transform":[{"filter":"datum.d=='right'"}],"mark":{"type":"point","shape":"M1,0L-1,-0.39L-1,0.39Z","size":324,"filled":true,"color":"#000","opacity":1}},
{"data":{"name":"td"},"transform":[{"filter":"datum.f=='yl'"}],"mark":{"type":"text","font":"DejaVu Serif","fontSize":15,"align":"right","baseline":"middle","color":"#000"},"encoding":{"text":{"field":"s"}}},
{"data":{"name":"td"},"transform":[{"filter":"datum.f=='xl'"}],"mark":{"type":"text","font":"DejaVu Serif","fontSize":15,"align":"center","baseline":"middle","color":"#000"},"encoding":{"text":{"field":"s"}}},
{"data":{"name":"td"},"transform":[{"filter":"datum.f=='u'"}],"mark":{"type":"text","font":"DejaVu Serif","fontSize":14,"align":"center","baseline":"middle","color":"#000"},"encoding":{"text":{"field":"s"}}},
{"data":{"name":"td"},"transform":[{"filter":"datum.f=='phi'"}],"mark":{"type":"text","font":"DejaVu Serif","fontSize":20,"fontWeight":"bold","align":"center","baseline":"middle","color":"#000"},"encoding":{"text":{"field":"s"}}},
{"data":{"name":"td"},"transform":[{"filter":"datum.f=='p'"}],"mark":{"type":"text","font":"DejaVu Serif","fontSize":23,"align":"center","baseline":"middle","color":"#000"},"encoding":{"text":{"field":"s"}}},
{"data":{"name":"td"},"transform":[{"filter":"datum.f=='dz'"}],"mark":{"type":"text","font":"DejaVu Serif","fontSize":19,"align":"center","baseline":"middle","color":"#000"},"encoding":{"text":{"field":"s"}}},
{"data":{"name":"td"},"transform":[{"filter":"datum.f=='dzs'"}],"mark":{"type":"text","font":"DejaVu Serif","fontSize":13,"align":"center","baseline":"middle","color":"#000"},"encoding":{"text":{"field":"s"}}}
]
}
]
}
